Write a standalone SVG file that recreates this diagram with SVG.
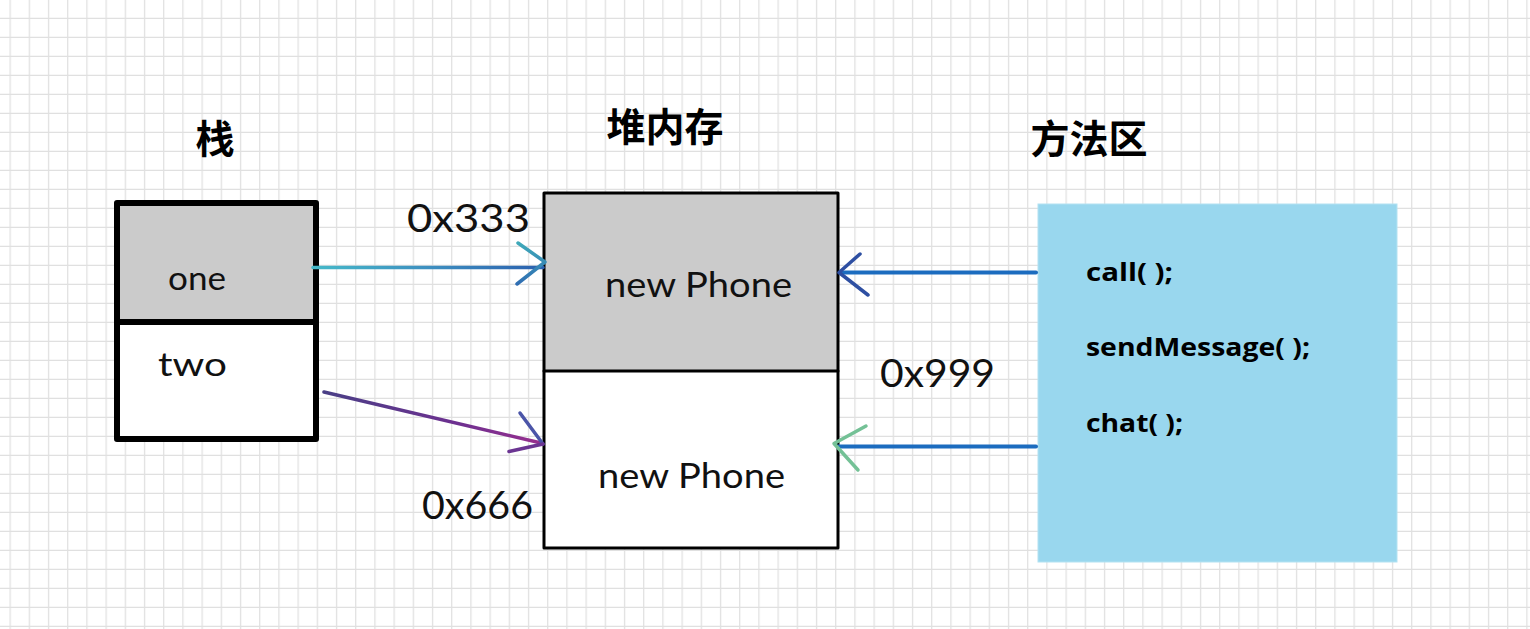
<svg xmlns="http://www.w3.org/2000/svg" width="1530" height="629" viewBox="0 0 1530 629">
  <defs>
    <pattern id="grid" x="9.5" y="0" width="19.2" height="19" patternUnits="userSpaceOnUse">
      <path d="M0.6 0 V19 M0 18.4 H19.2" fill="none" stroke="#e0e0e0" stroke-width="1.3"/>
    </pattern>
    <linearGradient id="g1" x1="313" y1="0" x2="545" y2="0" gradientUnits="userSpaceOnUse">
      <stop offset="0" stop-color="#45b9c9"/>
      <stop offset="0.5" stop-color="#3d8fc0"/>
      <stop offset="1" stop-color="#2a5fae"/>
    </linearGradient>
    <linearGradient id="g2" x1="324" y1="392" x2="545" y2="445" gradientUnits="userSpaceOnUse">
      <stop offset="0" stop-color="#4a3f86"/>
      <stop offset="0.6" stop-color="#6d3090"/>
      <stop offset="1" stop-color="#9a2f8e"/>
    </linearGradient>
    <linearGradient id="g1h" x1="0" y1="243" x2="0" y2="285" gradientUnits="userSpaceOnUse">
      <stop offset="0" stop-color="#3fa9b9"/>
      <stop offset="1" stop-color="#2f6cb2"/>
    </linearGradient>
  </defs>
  <style>
    .hand { font-family: Lato, "DejaVu Sans", sans-serif; fill: #111; }
    .title { font-family: "Noto Sans CJK SC", "Noto Sans", sans-serif; font-weight: 700; font-size: 39px; fill: #000; }
    .code { font-family: "Open Sans", "Liberation Sans", sans-serif; font-weight: 700; font-size: 25px; fill: #000; }
    .thick { fill: none; stroke: #000; stroke-width: 6; stroke-linejoin: round; stroke-linecap: round; }
    .thin { fill: none; stroke: #000; stroke-width: 3; stroke-linejoin: round; stroke-linecap: round; }
    .conn { fill: none; stroke-linecap: round; stroke-linejoin: round; }
  </style>

  <rect width="1530" height="629" fill="#ffffff"/>
  <rect width="1530" height="629" fill="url(#grid)"/>

  <g id="title-stack"><text class="title" x="215" y="153" text-anchor="middle">栈</text></g>
  <g id="title-heap"><text class="title" x="665" y="141" text-anchor="middle">堆内存</text></g>
  <g id="title-method"><text class="title" x="1089" y="153" text-anchor="middle">方法区</text></g>

  <g id="node-stack">
    <rect x="117" y="203" width="199" height="119" fill="#cbcbcb"/>
    <rect x="117" y="322" width="199" height="117" fill="#ffffff"/>
    <rect class="thick" x="117" y="203" width="199" height="236"/>
    <line class="thick" x1="117" y1="322" x2="316" y2="322"/>
    <text class="hand" x="168" y="290" font-size="33" textLength="58" lengthAdjust="spacingAndGlyphs">one</text>
    <text class="hand" x="158" y="376" font-size="33" textLength="69" lengthAdjust="spacingAndGlyphs">two</text>
  </g>

  <g id="node-heap">
    <rect x="544" y="193" width="294" height="178" fill="#cbcbcb"/>
    <rect x="544" y="371" width="294" height="177" fill="#ffffff"/>
    <rect class="thin" x="544" y="193" width="294" height="355"/>
    <line class="thin" x1="544" y1="371" x2="838" y2="371"/>
    <text class="hand" x="605" y="297" font-size="35" textLength="187" lengthAdjust="spacingAndGlyphs">new Phone</text>
    <text class="hand" x="598" y="488" font-size="35" textLength="187" lengthAdjust="spacingAndGlyphs">new Phone</text>
  </g>

  <g id="node-method">
    <rect x="1038" y="204" width="359" height="358" fill="#99d7ee" stroke="#b3e2f2" stroke-width="1"/>
    <text class="code" x="1086" y="281" textLength="87" lengthAdjust="spacingAndGlyphs">call( );</text>
    <text class="code" x="1086" y="356" textLength="224" lengthAdjust="spacingAndGlyphs">sendMessage( );</text>
    <text class="code" x="1086" y="432" textLength="97" lengthAdjust="spacingAndGlyphs">chat( );</text>
  </g>

  <g id="labels">
    <text class="hand" x="407" y="232" font-size="38" textLength="123" lengthAdjust="spacingAndGlyphs">0x333</text>
    <text class="hand" x="880" y="387" font-size="38" textLength="115" lengthAdjust="spacingAndGlyphs">0x999</text>
    <text class="hand" x="422" y="519" font-size="38" textLength="111" lengthAdjust="spacingAndGlyphs">0x666</text>
  </g>

  <g id="connectors">
    <g id="conn-one-heap">
      <path class="conn" d="M313 267.5 L543 267.5" stroke="url(#g1)" stroke-width="3.5"/>
      <path class="conn" d="M518 243 L545 262 L517 284" stroke="url(#g1h)" stroke-width="3.5"/>
    </g>
    <g id="conn-two-heap">
      <path class="conn" d="M324 392 L541 443" stroke="url(#g2)" stroke-width="3.5"/>
      <path class="conn" d="M520 413 L543 444" stroke="#4b55a8" stroke-width="3.5"/>
      <path class="conn" d="M509 451.5 L543 444" stroke="#6b3592" stroke-width="3.5"/>
    </g>
    <g id="conn-method-heap1">
      <path class="conn" d="M1036 272.5 L842 272.5" stroke="#1c6cbf" stroke-width="4"/>
      <path class="conn" d="M860 254 L839 272.5 L868 295" stroke="#2e4fa2" stroke-width="3.5"/>
    </g>
    <g id="conn-method-heap2">
      <path class="conn" d="M1036 446.5 L838 446.5" stroke="#1c6cbf" stroke-width="4"/>
      <path class="conn" d="M866 426 L834 443.5 L858 470" stroke="#74c196" stroke-width="3.5"/>
    </g>
  </g>
</svg>
